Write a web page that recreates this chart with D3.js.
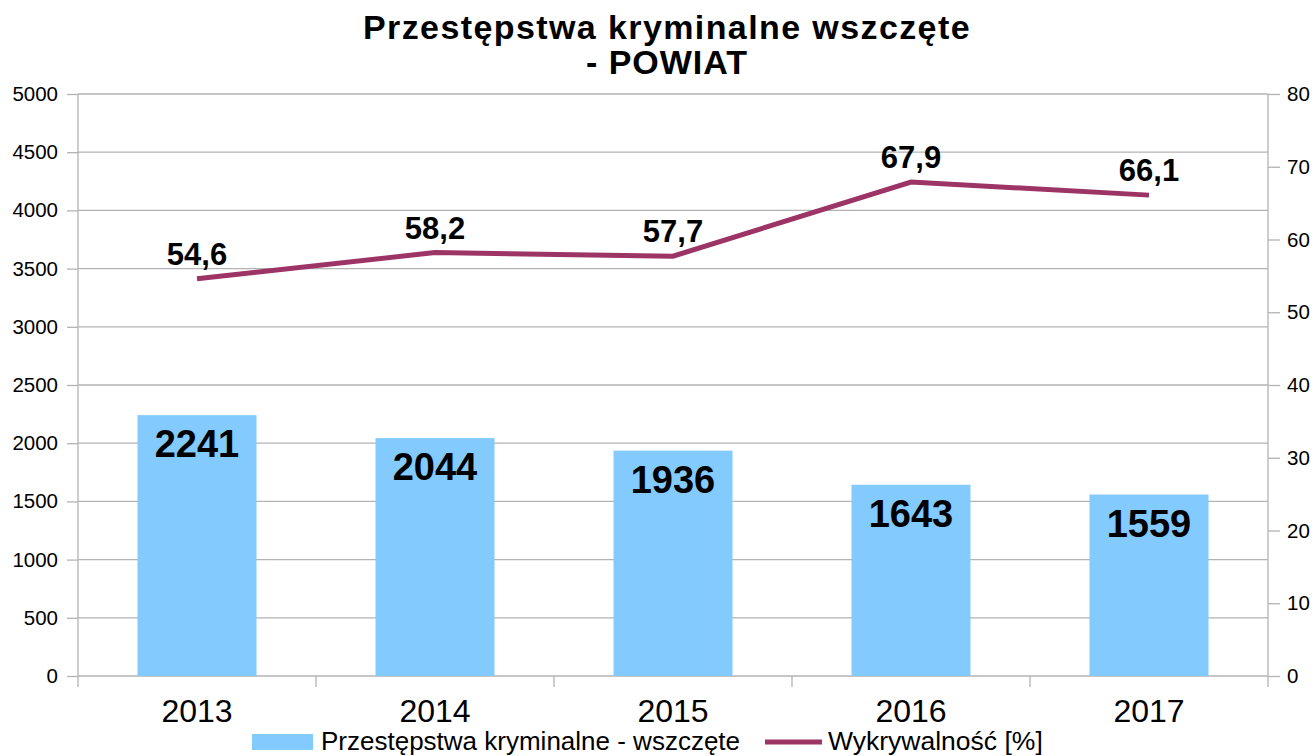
<!DOCTYPE html>
<html>
<head>
<meta charset="utf-8">
<script src="https://cdn.jsdelivr.net/npm/d3@7"></script>
<style>
  body { margin: 0; background: #fff; }
  svg text { font-family: "Liberation Sans", Arial, sans-serif; }
</style>
</head>
<body>
<div id="chart"></div>
<script>
//---------------------------------- Data --------------------
var years = ["2013", "2014", "2015", "2016", "2017"];
var crimes = [2241, 2044, 1936, 1643, 1559];
var detection = [54.6, 58.2, 57.7, 67.9, 66.1];
var leftTicks = [0, 500, 1000, 1500, 2000, 2500, 3000, 3500, 4000, 4500, 5000];
var rightTicks = [0, 10, 20, 30, 40, 50, 60, 70, 80];
var seriesNames = ["Przestępstwa kryminalne - wszczęte", "Wykrywalność [%]"];

//---------------------------------- Layout --------------------
var width = 1315, height = 756;
var plot = {left: 78, right: 1268, top: 94, bottom: 676};
var barColor = "#83caff", lineColor = "#9c3466", gridColor = "#b3b3b3";

var svg = d3.select("#chart").append("svg")
    .attr("width", width)
    .attr("height", height);

var x_scale = d3.scaleBand()
    .domain(years)
    .range([plot.left, plot.right])
    .paddingInner(0.5)
    .paddingOuter(0.25);

var xc = function(d) { return x_scale(d) + x_scale.bandwidth() / 2; };

var y_left = d3.scaleLinear().domain([0, 5000]).range([plot.bottom, plot.top]);
var y_right = d3.scaleLinear().domain([0, 80]).range([plot.bottom, plot.top]);

// ---------- Title ----------
svg.append("text")
    .attr("x", 667).attr("y", 39)
    .attr("text-anchor", "middle")
    .style("font-size", "34px").style("font-weight", "bold")
    .style("letter-spacing", "1.4px")
    .text("Przestępstwa kryminalne wszczęte");
svg.append("text")
    .attr("x", 667).attr("y", 74)
    .attr("text-anchor", "middle")
    .style("font-size", "34px").style("font-weight", "bold")
    .style("letter-spacing", "1px")
    .text("- POWIAT");

// ---------- Gridlines ----------
svg.selectAll(".grid").data(leftTicks).enter().append("line")
    .attr("class", "grid")
    .attr("x1", plot.left).attr("x2", plot.right)
    .attr("y1", function(d) { return y_left(d); })
    .attr("y2", function(d) { return y_left(d); })
    .attr("stroke", gridColor).attr("stroke-width", 1.3);

// ---------- Left axis ----------
var leftAxis = d3.axisLeft(y_left).tickValues(leftTicks).tickFormat(d3.format("d"))
    .tickSize(11).tickPadding(9);
var gl = svg.append("g").attr("transform", "translate(" + plot.left + ",0)").call(leftAxis);
gl.select(".domain").attr("stroke", gridColor).attr("stroke-width", 1.3)
    .attr("d", "M0," + plot.top + "V" + (plot.bottom + 11));
gl.selectAll(".tick line").attr("stroke", gridColor).attr("stroke-width", 1.3);
gl.selectAll(".tick text").style("font-size", "20.5px").attr("fill", "#000")
    .style("font-family", "Liberation Sans, Arial, sans-serif");

// ---------- Right axis ----------
var rightAxis = d3.axisRight(y_right).tickValues(rightTicks).tickSize(12).tickPadding(7);
var gr = svg.append("g").attr("transform", "translate(" + plot.right + ",0)").call(rightAxis);
gr.select(".domain").attr("stroke", gridColor).attr("stroke-width", 1.3)
    .attr("d", "M0," + plot.top + "V" + (plot.bottom + 11));
gr.selectAll(".tick line").attr("stroke", gridColor).attr("stroke-width", 1.3);
gr.selectAll(".tick text").style("font-size", "20.5px").attr("fill", "#000")
    .style("font-family", "Liberation Sans, Arial, sans-serif");

// ---------- Bottom axis: category separators ----------
var step = x_scale.step();
var seps = d3.range(1, years.length).map(function(i) { return x_scale(years[i]) - step * 0.25; });
svg.selectAll(".sep").data(seps).enter().append("line")
    .attr("class", "sep")
    .attr("x1", function(d) { return d; }).attr("x2", function(d) { return d; })
    .attr("y1", plot.bottom).attr("y2", plot.bottom + 11)
    .attr("stroke", gridColor).attr("stroke-width", 1.3);

svg.selectAll(".year").data(years).enter().append("text")
    .attr("class", "year")
    .attr("x", xc).attr("y", 722)
    .attr("text-anchor", "middle")
    .style("font-size", "32px")
    .text(function(d) { return d; });

// ---------- Bars ----------
svg.selectAll(".bar").data(crimes).enter().append("rect")
    .attr("class", "bar")
    .attr("x", function(d, i) { return x_scale(years[i]); })
    .attr("y", function(d) { return y_left(d); })
    .attr("width", x_scale.bandwidth())
    .attr("height", function(d) { return plot.bottom - y_left(d); })
    .attr("fill", barColor);

svg.selectAll(".barlabel").data(crimes).enter().append("text")
    .attr("class", "barlabel")
    .attr("x", function(d, i) { return xc(years[i]); })
    .attr("y", function(d) { return y_left(d) + 42; })
    .attr("text-anchor", "middle")
    .style("font-size", "38px").style("font-weight", "bold")
    .text(function(d) { return d; });

// ---------- Line ----------
var line = d3.line()
    .x(function(d, i) { return xc(years[i]); })
    .y(function(d) { return y_right(d); });

svg.append("path")
    .datum(detection)
    .attr("d", line)
    .attr("fill", "none")
    .attr("stroke", lineColor)
    .attr("stroke-width", 5);

svg.selectAll(".linelabel").data(detection).enter().append("text")
    .attr("class", "linelabel")
    .attr("x", function(d, i) { return xc(years[i]); })
    .attr("y", function(d) { return y_right(d) - 14; })
    .attr("text-anchor", "middle")
    .style("font-size", "31px").style("font-weight", "bold")
    .text(function(d) { return d.toFixed(1).replace(".", ","); });

// ---------- Legend ----------
svg.append("rect")
    .attr("x", 252).attr("y", 734).attr("width", 61).attr("height", 16)
    .attr("fill", barColor);
svg.append("text")
    .attr("x", 321).attr("y", 750)
    .style("font-size", "26px")
    .text(seriesNames[0]);
svg.append("line")
    .attr("x1", 765).attr("x2", 822).attr("y1", 742).attr("y2", 742)
    .attr("stroke", lineColor).attr("stroke-width", 5);
svg.append("text")
    .attr("x", 828).attr("y", 750)
    .style("font-size", "26.5px")
    .text(seriesNames[1]);
</script>
</body>
</html>
